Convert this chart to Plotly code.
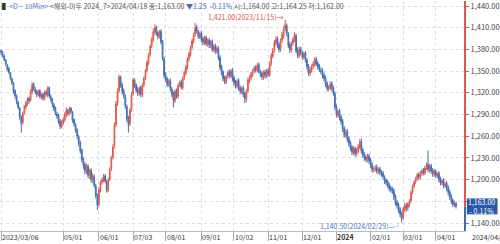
import pandas as pd
import plotly.graph_objects as go

# ---------------- data ----------------
dates = pd.bdate_range("2023-03-06", "2024-04-18")

closes = [
1376,1372,1366,1360,1353,1349,1340,1334,1322,1316,
1308,1300,1287,1278,1292,1301,1306,1311,1309,1322,
1331,1326,1321,1318,1322,1315,1317,1313,1320,1318,
1326,1316,1310,1304,1298,1292,1288,1280,1274,1279,
1283,1290,1295,1292,1298,1294,1282,1277,1268,1260,
1250,1240,1228,1220,1212,1218,1206,1212,1200,1205,
1192,1178,1165,1186,1196,1200,1204,1198,1186,1200,
1214,1230,1245,1275,1305,1322,1342,1330,1322,1316,
1302,1284,1276,1296,1318,1338,1330,1324,1320,1326,
1318,1330,1340,1350,1362,1372,1384,1394,1405,1410,
1402,1398,1404,1390,1368,1344,1338,1332,1336,1326,
1318,1310,1322,1316,1330,1334,1328,1340,1348,1356,
1366,1374,1382,1392,1400,1410,1405,1398,1402,1394,
1390,1396,1388,1392,1386,1390,1380,1384,1378,1382,
1368,1355,1348,1340,1336,1342,1348,1344,1350,1340,
1334,1330,1336,1326,1322,1326,1318,1312,1322,1338,
1340,1346,1350,1354,1352,1358,1350,1346,1342,1348,
1344,1350,1346,1360,1372,1378,1390,1394,1386,1380,
1392,1400,1408,1414,1402,1386,1380,1388,1394,1400,
1378,1372,1380,1376,1370,1374,1366,1356,1348,1352,
1356,1360,1366,1360,1356,1352,1350,1344,1340,1332,
1326,1328,1332,1326,1320,1300,1290,1294,1286,1280,
1270,1262,1266,1256,1250,1244,1238,1242,1236,1240,
1246,1252,1240,1234,1230,1228,1232,1226,1220,1214,
1214,1216,1212,1214,1210,1208,1204,1198,1196,1192,
1188,1186,1184,1176,1168,1164,1158,1152,1146,1160,
1164,1160,1166,1170,1182,1190,1196,1200,1206,1204,
1208,1212,1210,1216,1220,1214,1218,1212,1208,1212,
1206,1208,1200,1196,1198,1192,1194,1188,1182,1176,
1170,1166,1168,1163]

opens = [
1378,1375,1371,1365,1358,1354,1348,1339,1333,1323,
1315,1307,1299,1286,1279,1293,1300,1305,1312,1310,
1321,1332,1325,1322,1317,1323,1314,1318,1312,1321,
1317,1327,1315,1311,1303,1299,1291,1289,1281,1273,
1278,1282,1289,1296,1291,1299,1293,1283,1276,1269,
1259,1251,1241,1229,1221,1211,1219,1205,1213,1199,
1204,1191,1179,1166,1185,1197,1199,1205,1197,1185,
1201,1215,1231,1246,1276,1306,1323,1341,1331,1323,
1315,1301,1285,1277,1297,1319,1337,1331,1325,1319,
1327,1317,1331,1341,1351,1361,1373,1385,1393,1404,
1411,1403,1397,1405,1391,1367,1345,1339,1331,1337,
1325,1319,1309,1323,1315,1331,1335,1327,1341,1347,
1355,1367,1373,1383,1391,1401,1411,1404,1397,1403,
1395,1389,1397,1387,1393,1385,1391,1379,1385,1377,
1381,1369,1356,1349,1341,1335,1343,1349,1343,1351,
1341,1335,1329,1337,1327,1321,1327,1319,1311,1323,
1337,1341,1345,1351,1355,1351,1359,1349,1347,1341,
1349,1343,1351,1345,1361,1371,1379,1389,1395,1387,
1381,1393,1399,1409,1413,1401,1387,1379,1389,1393,
1399,1379,1371,1381,1375,1369,1375,1365,1357,1347,
1351,1357,1359,1367,1361,1357,1351,1351,1345,1341,
1333,1325,1327,1333,1327,1319,1301,1289,1295,1287,
1281,1271,1261,1267,1257,1251,1245,1237,1243,1235,
1239,1245,1253,1241,1235,1231,1227,1233,1227,1221,
1213,1215,1217,1211,1215,1209,1209,1203,1199,1197,
1193,1189,1187,1185,1177,1169,1165,1159,1153,1147,
1159,1165,1161,1165,1171,1183,1191,1197,1201,1207,
1203,1209,1213,1209,1217,1221,1213,1219,1213,1207,
1211,1205,1209,1201,1195,1199,1191,1195,1189,1183,
1177,1171,1165,1167]

highs = [
1380,1378,1373,1367,1360,1356,1349,1341,1335,1325,
1318,1309,1301,1289,1294,1303,1309,1314,1315,1325,
1335,1334,1328,1324,1325,1325,1320,1320,1323,1324,
1329,1329,1318,1313,1306,1301,1294,1291,1284,1282,
1286,1293,1300,1298,1301,1300,1295,1285,1278,1271,
1262,1254,1243,1231,1224,1222,1221,1215,1216,1209,
1207,1194,1181,1189,1199,1203,1208,1208,1200,1203,
1217,1233,1249,1279,1309,1326,1345,1344,1334,1326,
1318,1304,1288,1299,1321,1341,1340,1333,1328,1329,
1330,1333,1343,1353,1365,1375,1387,1397,1409,1415,
1413,1406,1407,1408,1393,1370,1349,1342,1339,1340,
1328,1322,1325,1326,1333,1337,1338,1343,1351,1359,
1369,1377,1385,1395,1403,1417,1414,1407,1405,1406,
1398,1399,1399,1395,1396,1393,1394,1387,1388,1385,
1384,1372,1359,1351,1344,1345,1351,1352,1353,1354,
1344,1338,1339,1340,1330,1329,1330,1322,1325,1341,
1344,1349,1353,1357,1358,1361,1362,1352,1350,1351,
1352,1353,1354,1363,1375,1382,1393,1398,1398,1390,
1395,1404,1412,1421,1416,1404,1390,1391,1397,1404,
1402,1383,1384,1384,1378,1377,1378,1368,1360,1356,
1359,1364,1369,1370,1364,1360,1355,1354,1348,1344,
1336,1331,1336,1336,1330,1322,1304,1297,1298,1290,
1284,1274,1270,1270,1260,1254,1248,1246,1246,1244,
1249,1256,1257,1244,1238,1234,1236,1236,1230,1224,
1218,1220,1221,1217,1218,1213,1212,1206,1202,1200,
1196,1192,1190,1188,1180,1172,1168,1162,1156,1163,
1168,1168,1169,1173,1185,1193,1199,1204,1209,1210,
1212,1215,1216,1219,1224,1240,1222,1222,1216,1215,
1214,1210,1212,1204,1201,1202,1197,1198,1192,1186,
1180,1174,1171,1169]

lows = [
1372,1369,1364,1357,1350,1346,1337,1331,1319,1312,
1304,1297,1283,1265,1276,1290,1297,1302,1305,1308,
1318,1323,1318,1314,1315,1312,1311,1309,1310,1315,
1314,1313,1307,1300,1295,1289,1284,1277,1270,1271,
1275,1280,1286,1288,1289,1291,1279,1273,1265,1256,
1246,1236,1224,1215,1207,1208,1202,1201,1196,1195,
1189,1174,1158,1163,1182,1193,1196,1195,1182,1183,
1198,1212,1228,1243,1273,1302,1320,1327,1318,1312,
1298,1280,1265,1274,1294,1316,1327,1320,1316,1316,
1314,1314,1328,1338,1348,1358,1370,1382,1390,1400,
1399,1394,1395,1387,1365,1340,1335,1328,1328,1322,
1314,1300,1306,1312,1312,1328,1325,1324,1338,1344,
1352,1363,1370,1380,1388,1398,1402,1395,1394,1390,
1386,1386,1385,1384,1382,1382,1377,1376,1374,1374,
1365,1351,1344,1336,1332,1332,1340,1340,1341,1336,
1330,1326,1326,1323,1318,1318,1314,1306,1307,1320,
1333,1337,1342,1347,1348,1348,1347,1342,1338,1338,
1340,1340,1342,1342,1357,1368,1376,1385,1382,1376,
1377,1389,1395,1405,1398,1382,1375,1376,1385,1390,
1375,1368,1368,1372,1366,1366,1362,1352,1344,1343,
1348,1353,1356,1357,1352,1349,1346,1340,1336,1328,
1322,1322,1324,1322,1316,1296,1286,1286,1282,1276,
1266,1258,1258,1252,1246,1240,1234,1234,1232,1232,
1236,1242,1236,1230,1226,1224,1224,1222,1216,1210,
1210,1211,1208,1208,1206,1204,1200,1194,1192,1188,
1184,1182,1180,1172,1164,1160,1154,1148,1140.5,1144,
1155,1156,1157,1162,1168,1180,1188,1194,1198,1200,
1200,1205,1206,1206,1213,1210,1210,1208,1204,1204,
1202,1202,1196,1192,1192,1188,1189,1184,1178,1172,
1166,1162,1162,1160]

ytick_vals = [1140, 1170, 1200, 1230, 1260, 1290, 1320, 1350, 1380, 1410, 1440]
ytick_text = ["1,140.00", "", "1,200.00", "1,230.00", "1,260.00", "1,290.00",
              "1,320.00", "1,350.00", "1,380.00", "1,410.00", "1,440.00"]
xtick_dates = ["2023-03-06", "2023-05-01", "2023-06-01", "2023-07-03", "2023-08-01",
               "2023-09-01", "2023-10-02", "2023-11-01", "2023-12-01", "2024-01-02",
               "2024-02-01", "2024-03-01", "2024-04-01"]
xtick_text = ["2023/03/06", "05/01", "06/01", "07/03", "08/01", "09/01", "10/02",
              "11/01", "12/01", "<b>2024</b>", "02/01", "03/01", "04/01"]

last_price = 1163.00
high_price, high_date = 1421.00, "2023-11-15"
low_price, low_date = 1140.50, "2024-02-29"

# ---------------- figure ----------------
n = len(closes)
xs = list(range(n))
date_list = list(dates[:n])

def idx_of(d):
    d = pd.Timestamp(d)
    for i, dt in enumerate(date_list):
        if dt >= d:
            return i
    return n - 1

tickpos = [idx_of(d) for d in xtick_dates]

RED = "#e0584c"
BLUE = "#3f6db5"
FONT = "Noto Sans CJK KR, sans-serif"

fig = go.Figure(go.Candlestick(
    x=xs, open=opens, high=highs, low=lows, close=closes,
    increasing=dict(line=dict(color=RED, width=1), fillcolor="#ee9d95"),
    decreasing=dict(line=dict(color=BLUE, width=1), fillcolor="#8aa6d6"),
    whiskerwidth=0, hoverinfo="skip",
))

W_PLOT = 471
fig.update_layout(
    width=500, height=244,
    margin=dict(l=0, r=500 - W_PLOT, t=0, b=13),
    paper_bgcolor="white", plot_bgcolor="white",
    showlegend=False,
    font=dict(family=FONT, size=7, color="#444"),
    xaxis=dict(
        range=[-0.7, 298.8], rangeslider=dict(visible=False),
        tickvals=tickpos, showticklabels=False,
        ticks="outside", ticklen=9, tickcolor="#aaa", tickwidth=1,
        showgrid=True, gridcolor="#dedede", griddash="dot", gridwidth=1,
        showline=True, linecolor="#bbb", linewidth=1,
        zeroline=False, fixedrange=True,
    ),
    yaxis=dict(
        range=[1129, 1447], side="right",
        tickvals=ytick_vals, ticktext=ytick_text,
        ticks="outside", ticklen=3, tickcolor=RED,
        ticklabeloverflow="allow",
        tickfont=dict(size=7.5, color="#444", family=FONT),
        showgrid=True, gridcolor="#dedede", griddash="dot", gridwidth=1,
        showline=False, zeroline=False, fixedrange=True,
    ),
)

# x tick labels (left-aligned next to tick marks)
for p, t in zip(tickpos, xtick_text):
    fig.add_annotation(x=p, y=0, xref="x", yref="paper", text=t, showarrow=False,
                       xanchor="left", yanchor="top", xshift=-1, yshift=1,
                       font=dict(size=7, color="#333", family=FONT))
fig.add_annotation(x=1, y=0, xref="paper", yref="paper", text="2024/04/18",
                   showarrow=False, xanchor="left", yanchor="top", xshift=5, yshift=1,
                   font=dict(size=7, color="#333", family=FONT))

# coloured right axis line (red above current price, blue below)
fig.add_shape(type="line", xref="paper", yref="y", x0=1, x1=1, y0=last_price, y1=1447,
              line=dict(color=RED, width=2))
fig.add_shape(type="line", xref="paper", yref="y", x0=1, x1=1, y0=1129, y1=last_price,
              line=dict(color=BLUE, width=2))

# current price box
fig.add_shape(type="rect", xref="paper", yref="y", x0=1.004, x1=1.07,
              y0=last_price - 11, y1=last_price + 11,
              fillcolor="#2a5aa6", line=dict(width=0), layer="above")
fig.add_annotation(x=1.004, y=last_price, xref="paper", yref="y",
                   text="1,163.00<br>- 0.11%", showarrow=False, align="center",
                   xanchor="left", yanchor="middle", xshift=-1,
                   font=dict(size=7, color="white", family=FONT))

# high / low markers
hi_i = idx_of(high_date)
lo_i = idx_of(low_date)
fig.add_annotation(x=hi_i, y=high_price, xref="x", yref="y",
                   text="1,421.00(2023/11/15)→", showarrow=False,
                   xanchor="right", yanchor="middle", yshift=3, xshift=2,
                   font=dict(size=7, color="#d9534f", family=FONT))
fig.add_annotation(x=lo_i, y=1136, xref="x", yref="y",
                   text="1,140.50(2024/02/29)—┘", showarrow=False,
                   xanchor="right", yanchor="middle", xshift=2,
                   font=dict(size=7, color="#4a74c0", family=FONT))

# header
header = ("<span style='color:#333'>▌</span><span style='color:#4a74c9'>&lt;D − 10Min&gt;</span>"
          " &lt;해외-미두 2024_7&gt;2024/04/18 종:1,163.00 "
          "<span style='color:#3f6db5'>▼1.25  -0.11%</span>"
          " 시:1,164.00 고:1,164.25 저:1,162.00")
fig.add_annotation(x=0, y=1, xref="paper", yref="paper", text=header, showarrow=False,
                   xanchor="left", yanchor="top", xshift=0, yshift=2,
                   font=dict(size=7, color="#555", family=FONT))

fig.write_html("out.html")
